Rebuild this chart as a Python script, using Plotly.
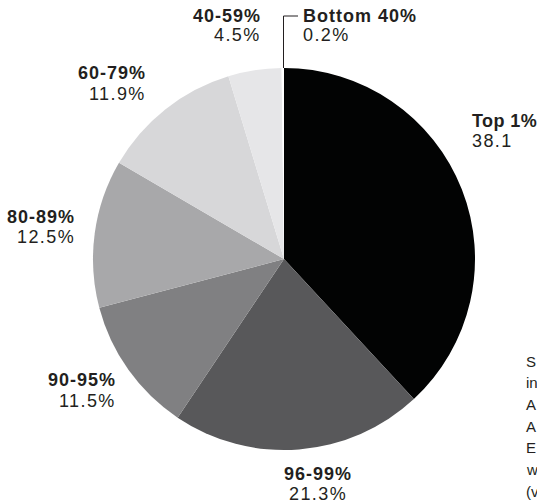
import plotly.graph_objects as go

groups = ["Top 1%", "96-99%", "90-95%", "80-89%", "60-79%", "40-59%", "Bottom 40%"]
shares = [38.1, 21.3, 11.5, 12.5, 11.9, 4.5, 0.2]
value_labels = ["38.1", "21.3%", "11.5%", "12.5%", "11.9%", "4.5%", "0.2%"]
colors = ["#020303", "#58585a", "#808082", "#a8a8aa", "#d7d7d9", "#e6e6e8", "#ffffff"]
# right-edge note, cut off by the frame in the original: only its first letters show
note_lines = ["S", "in", "A", "A", "E", "w", "(v"]

W, H = 537, 504
cx, cy, r = 284, 259, 191

def px(x):
    return x / W

def py(y):
    return 1 - y / H

fig = go.Figure(go.Pie(
    labels=groups, values=shares, sort=False, direction="clockwise", rotation=0,
    marker=dict(colors=colors, line=dict(width=0)),
    textinfo="none", hoverinfo="label+value", showlegend=False,
    domain=dict(x=[px(cx - r), px(cx + r)], y=[py(cy + r), py(cy - r)]),
))

# label anchors: x, y of name line, y of value line, alignment, tracking
label_pos = {
    "Top 1%": (470, 121, 141, "left", 0.4),
    "96-99%": (318, 474, 494, "center", 1.0),
    "90-95%": (118, 380, 401, "right", 1.0),
    "80-89%": (77, 217, 237, "right", 1.0),
    "60-79%": (148, 73, 94, "right", 1.0),
    "40-59%": (263, 16, 35.5, "right", 1.0),
    "Bottom 40%": (301, 16, 35.5, "left", 1.0),
}
font_family = "Liberation Sans, Arial, Helvetica, sans-serif"
ink = "#231f20"

def spaced(t, s):
    return f'<span style="letter-spacing:{s}px">{t}</span>'

anns = []
for g, v in zip(groups, value_labels):
    x, y1, y2, al, tr = label_pos[g]
    anns.append(dict(x=px(x), y=py(y1), xref="paper", yref="paper", text="<b>" + spaced(g, tr) + "</b>",
                     showarrow=False, xanchor=al, yanchor="middle",
                     font=dict(family=font_family, size=18, color=ink)))
    anns.append(dict(x=px(x), y=py(y2), xref="paper", yref="paper", text=spaced(v, 1.4),
                     showarrow=False, xanchor=al, yanchor="middle",
                     font=dict(family=font_family, size=18, color=ink)))

for i, line in enumerate(note_lines):
    anns.append(dict(x=px(524), y=py(361 + 21.7 * i), xref="paper", yref="paper", text=line,
                     showarrow=False, xanchor="left", yanchor="middle",
                     font=dict(family=font_family, size=15, color=ink)))

fig.update_layout(
    width=W, height=H, margin=dict(l=0, r=0, t=0, b=0),
    paper_bgcolor="white", plot_bgcolor="white",
    annotations=anns,
    shapes=[dict(type="path", xref="paper", yref="paper",
                 path=f"M {px(283.5)} {py(68)} L {px(283.5)} {py(16)} L {px(298)} {py(16)}",
                 line=dict(color=ink, width=1))],
)
fig.write_html("out.html", config={"displayModeBar": False},
               post_script="document.body.style.margin='0';document.body.style.overflow='hidden';")
